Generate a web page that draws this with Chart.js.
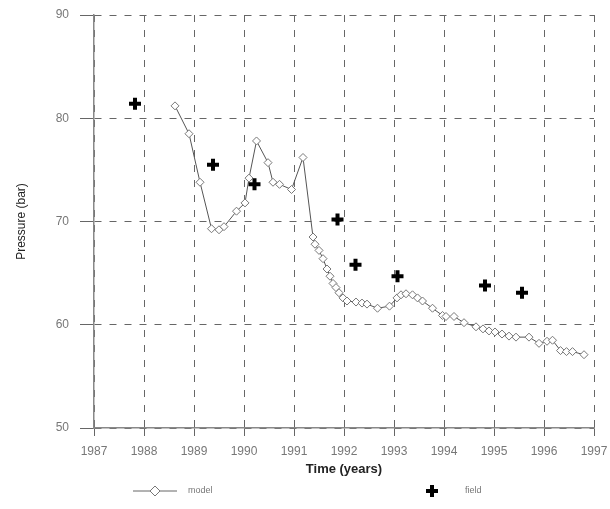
<!DOCTYPE html>
<html>
<head>
<meta charset="utf-8">
<script src="https://cdn.jsdelivr.net/npm/chart.js@4/dist/chart.umd.min.js"></script>
<style>
  body { margin: 0; background: #fff; }
  #pressureChart { display: block; }
</style>
</head>
<body>
<canvas id="pressureChart" width="610" height="509"></canvas>
<script>
// Simulated (model) reservoir pressure
const modelYears = [
    1988.62, 1988.90, 1989.12, 1989.35, 1989.50, 1989.60, 1989.85, 1990.02,
    1990.10, 1990.25, 1990.48, 1990.58, 1990.71, 1990.95, 1991.18, 1991.38,
    1991.42, 1991.50, 1991.58, 1991.66, 1991.72, 1991.78, 1991.84, 1991.90,
    1991.98, 1992.06, 1992.24, 1992.36, 1992.46, 1992.67, 1992.91, 1993.06,
    1993.14, 1993.24, 1993.37, 1993.47, 1993.57, 1993.77, 1993.97, 1994.04,
    1994.20, 1994.40, 1994.64, 1994.78, 1994.90, 1995.02, 1995.16, 1995.30,
    1995.44, 1995.70, 1995.90, 1996.06, 1996.17, 1996.33, 1996.45, 1996.57,
    1996.80
];
const modelPressure = [
    81.2, 78.5, 73.8, 69.3, 69.2, 69.5, 71.0, 71.8,
    74.2, 77.8, 75.7, 73.8, 73.6, 73.1, 76.2, 68.5,
    67.8, 67.2, 66.4, 65.4, 64.7, 64.0, 63.6, 63.1,
    62.6, 62.3, 62.2, 62.1, 62.0, 61.6, 61.8, 62.6,
    62.9, 63.0, 62.9, 62.6, 62.3, 61.6, 60.9, 60.8,
    60.8, 60.2, 59.8, 59.6, 59.4, 59.3, 59.1, 58.9,
    58.8, 58.8, 58.2, 58.4, 58.5, 57.5, 57.4, 57.4,
    57.1
];

// Measured (field) pressure
const fieldYears = [1987.82, 1989.38, 1990.21, 1991.87, 1992.23, 1993.07, 1994.82, 1995.56];
const fieldPressure = [81.4, 75.5, 73.6, 70.2, 65.8, 64.7, 63.8, 63.1];

// Axis ranges and labels
const yearMin = 1987;
const yearMax = 1997;
const pressureMin = 50;
const pressureMax = 90;
const xTitle = 'Time (years)';
const yTitle = 'Pressure (bar)';
const legendLabels = ['model', 'field'];

const toPoints = (xs, ys) => xs.map((x, i) => ({ x: x, y: ys[i] }));

const FONT = "'Liberation Sans', Arial, sans-serif";

// Legend drawn under the axis title
const bottomLegend = {
    id: 'bottomLegend',
    afterDraw(chart) {
        const ctx = chart.ctx;
        const y = 491;
        ctx.save();
        // model: line with hollow diamond
        ctx.strokeStyle = '#666';
        ctx.lineWidth = 1;
        ctx.beginPath();
        ctx.moveTo(133, y);
        ctx.lineTo(177, y);
        ctx.stroke();
        ctx.fillStyle = '#fff';
        ctx.strokeStyle = '#777';
        ctx.beginPath();
        ctx.moveTo(155, y - 5);
        ctx.lineTo(160, y);
        ctx.lineTo(155, y + 5);
        ctx.lineTo(150, y);
        ctx.closePath();
        ctx.fill();
        ctx.stroke();
        // field: bold cross
        ctx.strokeStyle = '#000';
        ctx.lineWidth = 4;
        ctx.beginPath();
        ctx.moveTo(426, y);
        ctx.lineTo(438, y);
        ctx.moveTo(432, y - 6);
        ctx.lineTo(432, y + 6);
        ctx.stroke();
        // labels
        ctx.fillStyle = '#777';
        ctx.font = '9px ' + FONT;
        ctx.textBaseline = 'middle';
        ctx.fillText(legendLabels[0], 188, y);
        ctx.fillText(legendLabels[1], 465, y);
        ctx.restore();
    }
};

new Chart(document.getElementById('pressureChart'), {
    type: 'scatter',
    data: {
        datasets: [{
            label: legendLabels[1],
            data: toPoints(fieldYears, fieldPressure),
            pointStyle: 'cross',
            pointRadius: 6,
            pointBorderWidth: 4,
            borderColor: '#000',
            backgroundColor: '#000',
            showLine: false
        }, {
            label: legendLabels[0],
            data: toPoints(modelYears, modelPressure),
            showLine: true,
            borderColor: '#555',
            borderWidth: 1,
            tension: 0,
            pointStyle: 'rectRot',
            pointRadius: 4,
            pointBorderWidth: 1,
            pointBorderColor: '#777',
            pointBackgroundColor: '#fff'
        }]
    },
    options: {
        responsive: false,
        devicePixelRatio: 1,
        animation: false,
        layout: {
            padding: { top: 15, right: 16, bottom: 29, left: 0 }
        },
        plugins: {
            legend: { display: false },
            tooltip: { enabled: false }
        },
        scales: {
            x: {
                type: 'linear',
                min: yearMin,
                max: yearMax,
                afterFit: s => {
                    s.height = 52;
                    s.paddingLeft = 0;
                    s.paddingRight = 0;
                },
                ticks: {
                    stepSize: 1,
                    padding: 8,
                    color: '#777',
                    font: { family: FONT, size: 12 },
                    maxRotation: 0,
                    callback: v => String(v)
                },
                grid: {
                    color: '#666',
                    lineWidth: 1,
                    tickLength: 8,
                    tickColor: '#666',
                    tickBorderDash: []
                },
                border: { display: true, color: '#888', width: 1.5, dash: [7, 8] },
                title: {
                    display: true,
                    text: xTitle,
                    color: '#222',
                    font: { family: FONT, size: 13, weight: 'bold' },
                    padding: { top: 0, bottom: 3 }
                }
            },
            y: {
                min: pressureMin,
                max: pressureMax,
                afterFit: s => {
                    s.width = 94;
                    s.paddingTop = 0;
                    s.paddingBottom = 0;
                },
                ticks: {
                    stepSize: 10,
                    padding: 11,
                    color: '#777',
                    font: { family: FONT, size: 12 }
                },
                grid: {
                    color: '#666',
                    lineWidth: 1,
                    tickLength: 14,
                    tickColor: '#666',
                    tickBorderDash: []
                },
                border: { display: true, color: '#888', width: 1.5, dash: [7, 8] },
                title: {
                    display: true,
                    text: yTitle,
                    color: '#222',
                    font: { family: FONT, size: 12 },
                    padding: { top: 14, bottom: 0 }
                }
            }
        }
    },
    plugins: [bottomLegend]
});
</script>
</body>
</html>
